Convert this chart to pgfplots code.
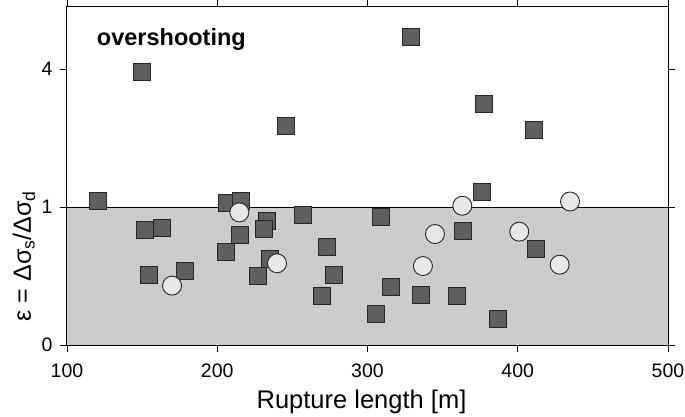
\documentclass[border=0pt]{standalone}
\usepackage{fontspec}
\setmainfont{Liberation Sans}
\usepackage{pgfplots}
\pgfplotsset{compat=1.18}
\definecolor{shade}{HTML}{CCCCCC}
\definecolor{sqfill}{HTML}{5F5F5F}
\definecolor{cifill}{HTML}{E8E8E8}
\begin{document}
\begin{tikzpicture}
% y is plotted in display units: 0..1 linear, 1..4 squeezed into 1..2
\begin{axis}[
  scale only axis,
  width=601bp, height=338bp,
  xmin=100, xmax=500, ymin=0, ymax=2.449,
  xtick={100,200,300,400,500},
  ytick={0,1,2}, yticklabels={0,1,4},
  tick align=outside,
  major tick length=7bp,
  axis line style={line width=1bp},
  every tick/.style={black, line width=0.9bp},
  axis on top,
  /pgf/number format/assume math mode=true,
  ticklabel style={font=\fontsize{19.5bp}{22bp}\selectfont},
  xticklabel style={yshift=-8bp},
  yticklabel style={xshift=-4bp},
  xlabel={Rupture length [m]},
  xlabel style={font=\fontsize{25.5bp}{28bp}\selectfont, at={(axis description cs:0.49,-0.189)}, anchor=base},
  ylabel={ε = Δσ\textsubscript{s}/Δσ\textsubscript{d}},
  ylabel style={font=\fontsize{25bp}{28bp}\selectfont, at={(axis description cs:-0.0716,0.263)}, anchor=center},
  clip=false,
]
\addplot[draw=none, fill=shade] coordinates {(100,0) (500,0) (500,1) (100,1)} -- cycle;
\addplot[black, line width=0.8bp] coordinates {(100,1) (500,1)};

% squares
\addplot[only marks, mark=square*, mark size=8.5bp,
  mark options={fill=sqfill, draw=black!85, line width=0.9bp}]
coordinates {
(120.6,1.046) (149.9,1.978) (151.9,0.836) (163.0,0.850) (154.8,0.507)
(178.7,0.538) (206.3,1.031) (215.8,1.041) (232.9,0.901) (230.9,0.838)
(214.9,0.797) (205.8,0.672) (234.9,0.621) (226.9,0.502) (245.8,1.587)
(256.9,0.944) (272.8,0.708) (277.7,0.509) (269.7,0.357) (308.8,0.930)
(315.6,0.420) (305.7,0.227) (335.8,0.365) (359.8,0.355) (386.9,0.188)
(363.8,0.826) (411.9,0.698) (329.0,2.234) (377.7,1.744) (410.8,1.558)
(376.0,1.109)
};

% circles
\addplot[only marks, mark=*, mark size=9.5bp,
  mark options={fill=cifill, draw=black!85, line width=0.9bp}]
coordinates {
(169.9,0.430) (214.7,0.961) (239.8,0.592) (344.9,0.804) (336.9,0.572)
(401.0,0.821) (427.9,0.582) (363.1,1.009) (434.8,1.040)
};

\node[anchor=base west, inner sep=0, font=\fontsize{23.5bp}{26bp}\selectfont\bfseries]
  at (axis cs:119.8,2.169) {overshooting};
\end{axis}
\pgfresetboundingbox
\path ([shift={(-67bp,-72bp)}]current axis.south west) rectangle ([shift={(17bp,7bp)}]current axis.north east);
\end{tikzpicture}
\end{document}
